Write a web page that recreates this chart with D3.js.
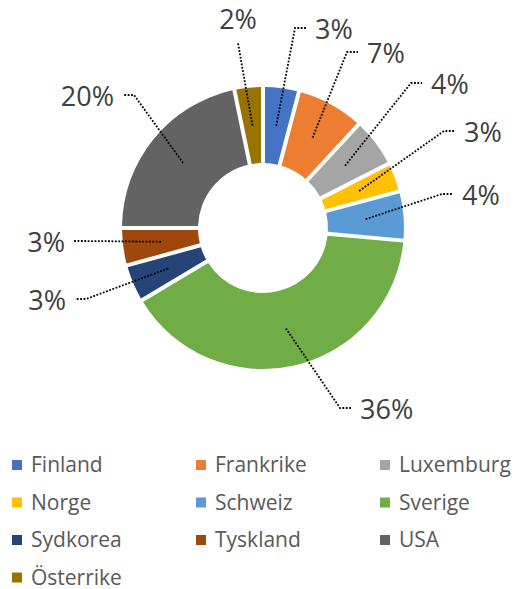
<!DOCTYPE html>
<html>
<head>
<meta charset="utf-8">
<script src="https://cdn.jsdelivr.net/npm/d3@7"></script>
<style>
  body { margin: 0; background: #fff; }
  text { font-family: "Open Sans", "Noto Sans", sans-serif; }
</style>
</head>
<body>
<svg class="chart"></svg>
<script>
const countries = ['Finland', 'Frankrike', 'Luxemburg', 'Norge', 'Schweiz', 'Sverige', 'Sydkorea', 'Tyskland', 'USA', 'Österrike']
// slice sizes
const values = [3.7, 7.6, 5.3, 2.9, 5.3, 42.0, 3.9, 3.9, 22.5, 2.8]
// printed labels (as shown in the chart)
const labels = ['3%', '7%', '4%', '3%', '4%', '36%', '3%', '3%', '20%', '2%']
const colors = ['#4472C4', '#ED7D31', '#A5A5A5', '#FFC000', '#5B9BD5', '#70AD47', '#264478', '#9E480E', '#636363', '#997300']

// where each data label sits, relative to the donut centre
const labelPos = [
  { dx: 43, dy: -200, side: 'right' },
  { dx: 95, dy: -176, side: 'right' },
  { dx: 159, dy: -145, side: 'right' },
  { dx: 192, dy: -97, side: 'right' },
  { dx: 190, dy: -34, side: 'right' },
  { dx: 88, dy: 180, side: 'right' },
  { dx: -188, dy: 71, side: 'left' },
  { dx: -189, dy: 13, side: 'left' },
  { dx: -140, dy: -133, side: 'left' },
  { dx: -25, dy: -185, side: 'top' },
]

const width = 519, height = 589
const cx = 263, cy = 228
const outer = 141, inner = 65

const svg = d3.select('.chart')
  .attr('width', width)
  .attr('height', height)

const data = countries.map((name, i) => ({ name, value: values[i], label: labels[i], color: colors[i], pos: labelPos[i] }))

const pie = d3.pie()
  .value(d => d.value)
  .sort(null)
  .padAngle(0.04)

const arc = d3.arc()
  .innerRadius(inner)
  .outerRadius(outer)
  .padRadius(100)

const mid = d3.arc()
  .innerRadius((inner + outer) / 2)
  .outerRadius((inner + outer) / 2)

const g = svg.append('g')
  .attr('transform', `translate(${cx}, ${cy})`)

const arcs = pie(data)

g.selectAll('path.slice')
  .data(arcs)
  .enter()
  .append('path')
  .attr('class', 'slice')
  .attr('d', arc)
  .attr('fill', d => d.data.color)

// leader lines
g.selectAll('path.leader')
  .data(arcs)
  .enter()
  .append('path')
  .attr('class', 'leader')
  .attr('fill', 'none')
  .attr('stroke', '#000')
  .attr('stroke-width', 1.8)
  .attr('stroke-dasharray', '1.8 1.6')
  .attr('d', d => {
    const c = mid.centroid(d)
    const p = d.data.pos
    if (p.side === 'top') return `M${c[0]},${c[1]}L${p.dx},${p.dy}`
    const ex = p.side === 'right' ? p.dx - 11 : p.dx + 11
    return `M${c[0]},${c[1]}L${ex},${p.dy}L${p.dx},${p.dy}`
  })

g.selectAll('text.lbl')
  .data(arcs)
  .enter()
  .append('text')
  .attr('class', 'lbl')
  .attr('x', d => {
    const p = d.data.pos
    if (p.side === 'top') return p.dx
    return p.side === 'right' ? p.dx + 9 : p.dx - 9
  })
  .attr('y', d => d.data.pos.side === 'top' ? d.data.pos.dy - 23 : d.data.pos.dy + 2)
  .attr('dy', '0.35em')
  .attr('text-anchor', d => ({ right: 'start', left: 'end', top: 'middle' })[d.data.pos.side])
  .attr('font-size', 27)
  .attr('fill', '#404040')
  .text(d => d.data.label)

// legend
const legend = svg.append('g')
  .attr('transform', 'translate(12, 465)')

const item = legend.selectAll('g')
  .data(data)
  .enter()
  .append('g')
  .attr('transform', (d, i) => `translate(${(i % 3) * 184}, ${Math.floor(i / 3) * 37.5})`)

item.append('rect')
  .attr('y', -5)
  .attr('width', 10)
  .attr('height', 10)
  .attr('fill', d => d.color)

item.append('text')
  .attr('x', 19)
  .attr('dy', '0.35em')
  .attr('font-size', 21)
  .attr('fill', '#595959')
  .text(d => d.name)
</script>
</body>
</html>
